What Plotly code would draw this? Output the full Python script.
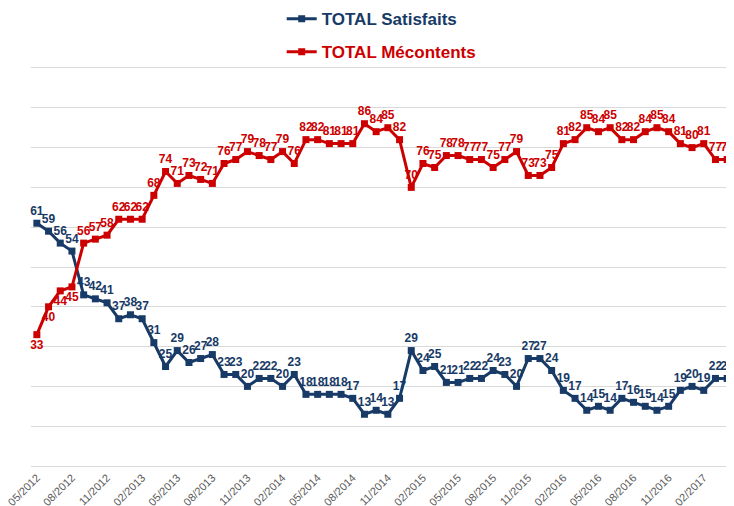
import pandas as pd
import plotly.graph_objects as go

# monthly barometer, 05/2012 -> 04/2017
months = list(pd.date_range("2012-05-01", periods=60, freq="MS").strftime("%m/%Y"))
tick_labels = months[::3]

satisfaits = [61, 59, 56, 54, 43, 42, 41, 37, 38, 37, 31, 25, 29, 26, 27, 28, 23, 23, 20, 22,
              22, 20, 23, 18, 18, 18, 18, 17, 13, 14, 13, 17, 29, 24, 25, 21, 21, 22, 22, 24,
              23, 20, 27, 27, 24, 19, 17, 14, 15, 14, 17, 16, 15, 14, 15, 19, 20, 19, 22, 22]
mecontents = [33, 40, 44, 45, 56, 57, 58, 62, 62, 62, 68, 74, 71, 73, 72, 71, 76, 77, 79, 78,
              77, 79, 76, 82, 82, 81, 81, 81, 86, 84, 85, 82, 70, 76, 75, 78, 78, 77, 77, 75,
              77, 79, 73, 73, 75, 81, 82, 85, 84, 85, 82, 82, 84, 85, 84, 81, 80, 81, 77, 77]

BLUE = '#173A66'
RED = '#CC0000'
FONT = 'Liberation Sans Narrow, Liberation Sans, Arial, sans-serif'

# red labels sit under the line while it is below the blue one
red_pos = ['bottom center' if m < s else 'top center' for m, s in zip(mecontents, satisfaits)]

fig = go.Figure()

fig.add_trace(go.Scatter(
    x=months, y=satisfaits, legendgroup='s',
    name=f'<span style="color:{BLUE}">TOTAL Satisfaits</span>',
    mode='lines+markers+text', text=[str(v) for v in satisfaits],
    textposition='top center', cliponaxis=False,
    textfont=dict(family=FONT, size=12, color=BLUE, weight='bold'),
    line=dict(color=BLUE, width=3), marker=dict(symbol='square', size=7, color=BLUE)
))

fig.add_trace(go.Scatter(
    x=months, y=mecontents, legendgroup='m',
    name=f'<span style="color:{RED}">TOTAL Mécontents</span>',
    mode='lines+markers+text', text=[str(v) for v in mecontents],
    textposition=red_pos, cliponaxis=False,
    textfont=dict(family=FONT, size=12, color=RED, weight='bold'),
    line=dict(color=RED, width=3), marker=dict(symbol='square', size=7, color=RED)
))

# page body adds 8px around the figure, so the figure is a bit smaller than the window
fig.update_layout(
    width=726, height=498,
    margin=dict(l=23, r=1, t=60, b=40, autoexpand=False),
    paper_bgcolor='white', plot_bgcolor='white',
    font=dict(family=FONT),
    showlegend=True,
    legend=dict(
        xref='container', yref='paper', x=0.377, y=1.168,
        xanchor='left', yanchor='top', tracegroupgap=8, bgcolor='rgba(0,0,0,0)',
        font=dict(size=17, weight='bold'), itemwidth=30
    ),
    xaxis=dict(
        range=[-0.5, 59.5], tickvals=tick_labels, ticktext=tick_labels,
        tickangle=-45, tickfont=dict(size=11, color='#595959'),
        showgrid=False, showline=True, mirror=True, linecolor='#D9D9D9', linewidth=1, ticks=''
    ),
    yaxis=dict(
        range=[0, 100], dtick=10, showgrid=True, gridcolor='#D9D9D9',
        showticklabels=False, zeroline=False
    )
)

fig.write_html("out.html")
